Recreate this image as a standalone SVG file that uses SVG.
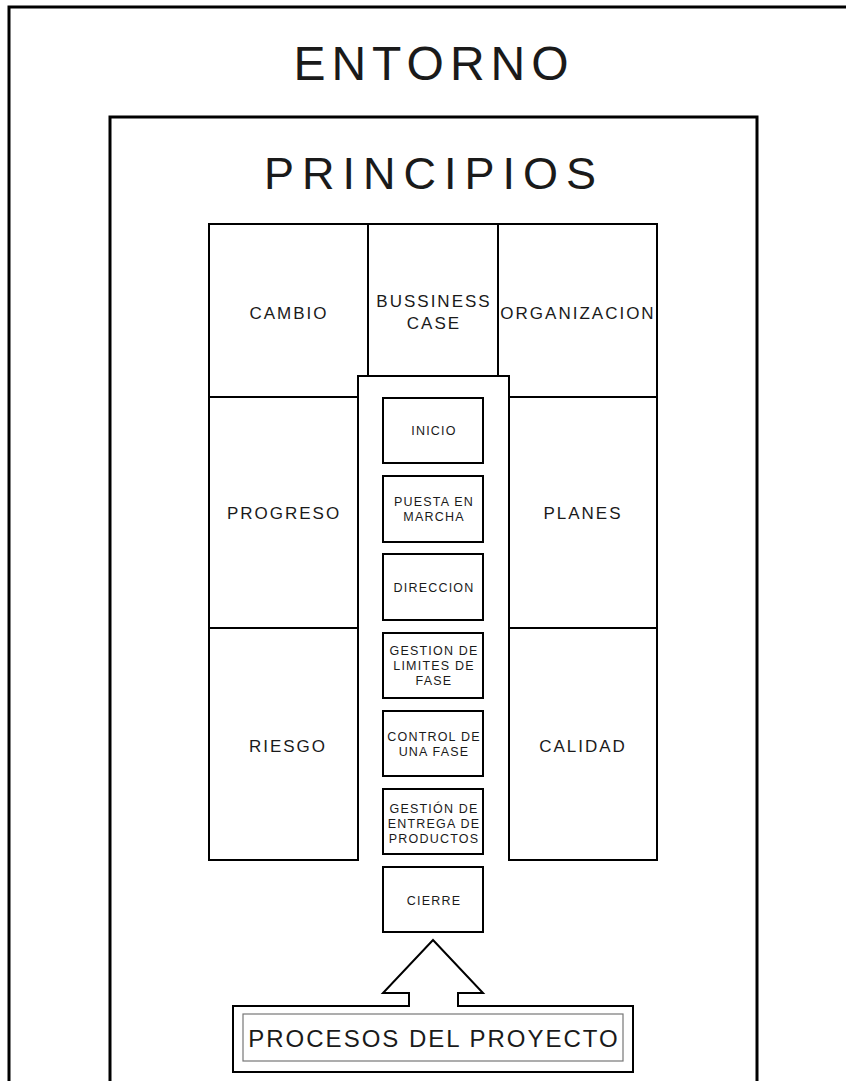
<svg xmlns="http://www.w3.org/2000/svg" width="846" height="1081" viewBox="0 0 846 1081">
<style>
  .frame{fill:none;stroke:#000;stroke-width:3}
  .box{fill:#fff;stroke:#000;stroke-width:2}
  .t{font-family:"Liberation Sans",Arial,sans-serif;fill:#1a1a1a;text-anchor:middle}
  .big{font-size:48px;letter-spacing:6px}
  .mid{font-size:17px;letter-spacing:2px}
  .sm{font-size:12.5px;letter-spacing:1.2px}
</style>
<rect width="846" height="1081" fill="#fff"/>
<g id="entorno">
  <path class="frame" d="M9,1085 V7 H850"/>
  <text class="t big" x="434" y="80">ENTORNO</text>
</g>
<g id="principios">
  <path class="frame" d="M110,1085 V117 H757 V1085"/>
  <text class="t" style="font-size:45px;letter-spacing:8px" x="434" y="189">PRINCIPIOS</text>
</g>
<g id="cambio">
  <rect class="box" x="209" y="224" width="159" height="173"/>
  <text class="t mid" x="289" y="319">CAMBIO</text>
</g>
<g id="bussiness-case">
  <rect class="box" x="368" y="224" width="130" height="152"/>
  <text class="t mid" x="434" y="307">BUSSINESS</text>
  <text class="t mid" x="434" y="329">CASE</text>
</g>
<g id="organizacion">
  <rect class="box" x="498" y="224" width="159" height="173"/>
  <text class="t mid" x="578" y="319">ORGANIZACION</text>
</g>
<g id="procesos-columna">
  <path class="box" d="M358,860 V376 H509 V860"/>
</g>
<g id="progreso">
  <rect class="box" x="209" y="397" width="149" height="231"/>
  <text class="t mid" x="284" y="519">PROGRESO</text>
</g>
<g id="riesgo">
  <rect class="box" x="209" y="628" width="149" height="232"/>
  <text class="t mid" x="288" y="752">RIESGO</text>
</g>
<g id="planes">
  <rect class="box" x="509" y="397" width="148" height="231"/>
  <text class="t mid" x="583" y="519">PLANES</text>
</g>
<g id="calidad">
  <rect class="box" x="509" y="628" width="148" height="232"/>
  <text class="t mid" x="583" y="752">CALIDAD</text>
</g>
<g id="inicio">
  <rect class="box" x="383" y="398" width="100" height="65"/>
  <text class="t sm" x="434" y="435">INICIO</text>
</g>
<g id="puesta-en-marcha">
  <rect class="box" x="383" y="476" width="100" height="66"/>
  <text class="t sm" x="434" y="506">PUESTA EN</text>
  <text class="t sm" x="434" y="521">MARCHA</text>
</g>
<g id="direccion">
  <rect class="box" x="383" y="554" width="100" height="66"/>
  <text class="t sm" x="434" y="592">DIRECCION</text>
</g>
<g id="gestion-limites">
  <rect class="box" x="383" y="633" width="100" height="65"/>
  <text class="t sm" x="434" y="655">GESTION DE</text>
  <text class="t sm" x="434" y="670">LIMITES DE</text>
  <text class="t sm" x="434" y="685">FASE</text>
</g>
<g id="control-fase">
  <rect class="box" x="383" y="711" width="100" height="65"/>
  <text class="t sm" x="434" y="741">CONTROL DE</text>
  <text class="t sm" x="434" y="756">UNA FASE</text>
</g>
<g id="gestion-entrega">
  <rect class="box" x="383" y="789" width="100" height="65"/>
  <text class="t sm" x="434" y="813">GESTIÓN DE</text>
  <text class="t sm" x="434" y="828">ENTREGA DE</text>
  <text class="t sm" x="434" y="843">PRODUCTOS</text>
</g>
<g id="cierre">
  <rect class="box" x="383" y="867" width="100" height="65"/>
  <text class="t sm" x="434" y="905">CIERRE</text>
</g>
<g id="connectors">
  <path class="box" d="M433,940 L483,993 L458,993 L458,1006 L633,1006 L633,1072 L233,1072 L233,1006 L409,1006 L409,993 L383,993 Z"/>
</g>
<g id="procesos-del-proyecto">
  <rect x="243" y="1014" width="380" height="47" fill="none" stroke="#777" stroke-width="1.2"/>
  <text class="t" style="font-size:24px;letter-spacing:2px" x="434" y="1047">PROCESOS DEL PROYECTO</text>
</g>
</svg>
